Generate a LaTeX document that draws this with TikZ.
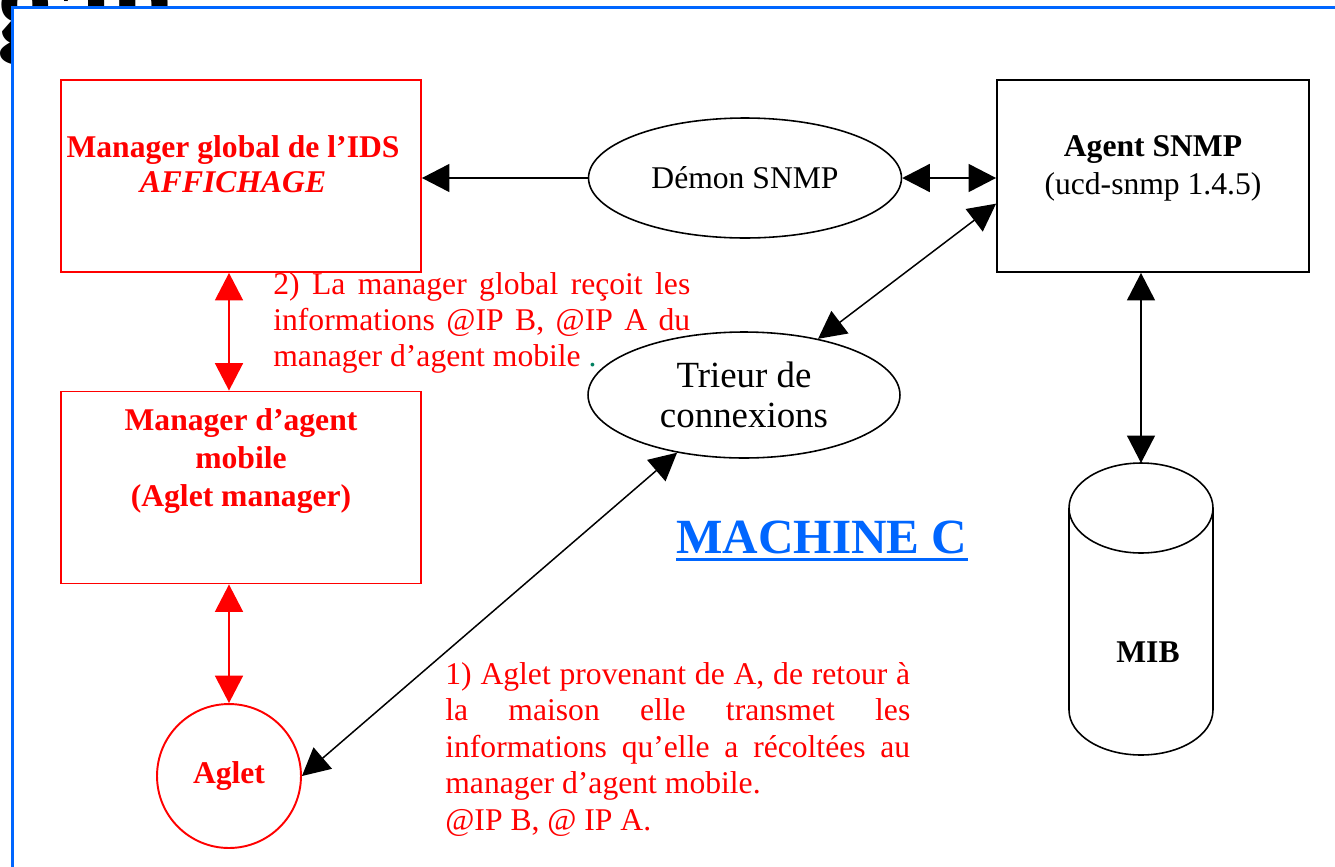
\documentclass[tikz,border=0pt]{standalone}
\usepackage{fontspec}
\setmainfont{Liberation Serif}
\usetikzlibrary{shapes,arrows.meta,positioning}
\setlength{\parindent}{0pt}
\definecolor{ired}{RGB}{255,0,0}
\definecolor{iblue}{RGB}{0,102,255}
\definecolor{idot}{RGB}{0,128,96}

\tikzset{
  redbox/.style={rectangle, draw=ired, line width=1.1pt, minimum width=7.2cm, minimum height=3.84cm},
  blackbox/.style={rectangle, draw, line width=1.1pt, minimum width=6.24cm, minimum height=3.84cm},
  bubble/.style={ellipse, draw, line width=0.9pt, minimum width=6.26cm, minimum height=2.4cm},
  oneway/.style={-{Triangle[length=0.55cm,width=0.56cm]}},
  twoway/.style={{Triangle[length=0.55cm,width=0.56cm]}-{Triangle[length=0.55cm,width=0.56cm]}},
  redlink/.style={twoway, draw=ired, line width=1.1pt},
  blacklink/.style={line width=0.85pt},
  notetext/.style={text=ired, align=justify, inner sep=0pt, anchor=north west},
  boldtext/.style={font=\fontsize{18}{20}\selectfont\bfseries}
}

\begin{document}
\begin{tikzpicture}[x=0.02cm, y=-0.02cm, font=\fontsize{18}{20}\selectfont]
    \useasboundingbox (0,0) rectangle (1335,866);
    \clip (0,0) rectangle (1335,866);

    % title hidden by the frame
    \node[anchor=base west, inner sep=0pt, font=\fontsize{65}{70}\selectfont\bfseries] (title) at (-3,40) {gan};
    \fill[white] (12.5,7.5) rectangle (1345,876);
    \draw[iblue, line width=1.4pt] (12.5,876) -- (12.5,7.5) -- (1345,7.5);

    % left column
    \node[redbox] (global) at (241,176) {};
    \node[text=ired, boldtext, align=center] (globaltxt) at (233,164)
        {Manager global de l'IDS\\\textit{AFFICHAGE}};

    \node[redbox] (mobile) at (241,487.5) {};
    \node[text=ired, font=\fontsize{18}{21.6}\selectfont\bfseries, align=center] (mobiletxt) at (241,461)
        {Manager d'agent\\mobile\\(Aglet manager)};

    \node[circle, draw=ired, line width=1.1pt, minimum size=2.88cm, text=ired, boldtext] (aglet) at (229,776) {Aglet};

    \draw[redlink] (global.south -| aglet.north) -- (mobile.north -| aglet.north);
    \draw[redlink] (mobile.south -| aglet.north) -- (aglet.north);

    % right column
    \node[blackbox] (agent) at (1153,176) {};
    \node[font=\fontsize{18}{21.6}\selectfont, align=center] (agenttxt) at (1153,168)
        {\textbf{Agent SNMP}\\(ucd-snmp 1.4.5)};

    % MIB cylinder
    \draw[line width=0.9pt] (1141,508) ellipse [x radius=1.44cm, y radius=0.9cm];
    \draw[line width=0.9pt] (1069,508) -- (1069,710)
        arc[start angle=180, end angle=360, x radius=1.44cm, y radius=0.9cm] -- (1213,508);
    \node[boldtext] (mib) at (1148,652) {MIB};
    \coordinate (mibtop) at (1141,463);

    % middle
    \node[bubble] (demon) at (745,178) {Démon SNMP};
    \node[bubble, minimum width=6.24cm, minimum height=2.52cm, font=\fontsize{21}{22.8}\selectfont, align=center] (trieur) at (744,395)
        {Trieur de\\connexions};

    % Connections
    \draw[blacklink, oneway] (demon.west) -- (demon.west -| global.east);
    \draw[blacklink, twoway] (demon.east) -- (demon.east -| agent.west);
    \draw[blacklink, twoway] (agent.190) -- (trieur);
    \draw[blacklink, twoway] (aglet.east) -- (trieur);
    \draw[blacklink, twoway] (agent.south -| mibtop) -- (mibtop);

    % notes
    \node[notetext, text width=8.34cm, font=\fontsize{18}{20.5}\selectfont] (note2) at (273,272)
        {2) La manager global reçoit les\linebreak informations @IP B, @IP A du\linebreak manager d'agent mobile {\color{idot}.}};
    \node[notetext, text width=9.3cm, font=\fontsize{18}{20.8}\selectfont] (note1) at (445,662)
        {1) Aglet provenant de A, de retour à\linebreak la maison elle transmet les\linebreak informations qu'elle a récoltées au\linebreak manager d'agent mobile.\\@IP B, @ IP A.};

    \node[anchor=base, inner sep=0pt, text=iblue, font=\fontsize{28}{30}\selectfont\bfseries] (machine) at (822,553) {MACHINE C};
    \draw[iblue, line width=1.7pt] ([yshift=-0.12cm]machine.base west) -- ([yshift=-0.12cm]machine.base east);
\end{tikzpicture}
\end{document}
